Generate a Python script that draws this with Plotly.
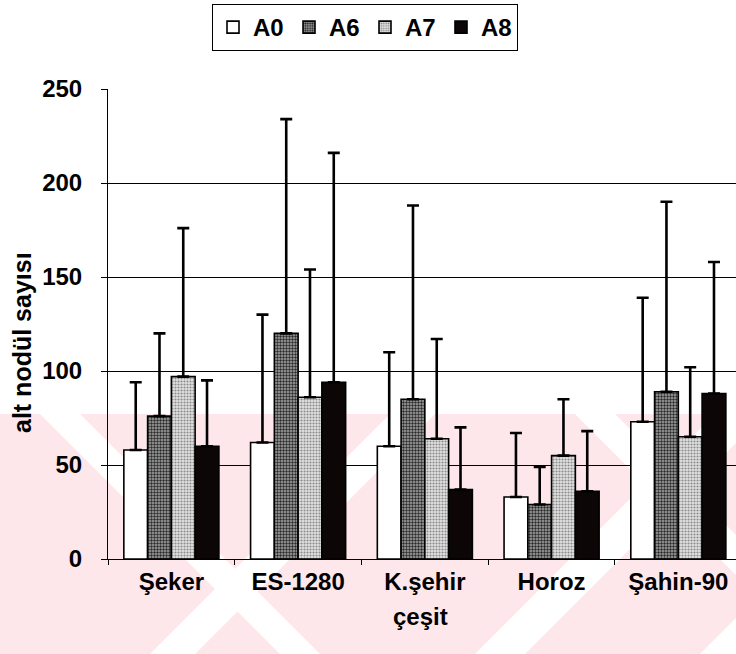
import plotly.graph_objects as go

# Data: mean sub-nodule counts per cultivar and treatment, with upper error values
cultivars = ["Şeker", "ES-1280", "K.şehir", "Horoz", "Şahin-90"]
series_names = ["A0", "A6", "A7", "A8"]

a0_mean = [58, 62, 60, 33, 73]
a6_mean = [76, 120, 85, 29, 89]
a7_mean = [97, 86, 64, 55, 65]
a8_mean = [60, 94, 37, 36, 88]

a0_top = [94, 130, 110, 67, 139]
a6_top = [120, 234, 188, 49, 190]
a7_top = [176, 154, 117, 85, 102]
a8_top = [95, 216, 70, 68, 158]

y_ticks = [0, 50, 100, 150, 200, 250]

means = [a0_mean, a6_mean, a7_mean, a8_mean]
tops = [a0_top, a6_top, a7_top, a8_top]

styles = {
    "A0": dict(color="white"),
    "A6": dict(color="#8a8a8a",
               pattern=dict(shape=".", fgcolor="#2a2a2a", bgcolor="#a8a8a8",
                            size=3, solidity=0.5, fillmode="replace")),
    "A7": dict(color="#cfcfcf",
               pattern=dict(shape=".", fgcolor="#8a8a8a", bgcolor="#e2e2e2",
                            size=3, solidity=0.4, fillmode="replace")),
    "A8": dict(color="#0c0606"),
}

W, H = 736, 654
L, R, T, B = 108, 736, 89, 559  # plot area in pixels


def px(x, y):
    """Pixel position -> paper coordinates."""
    return (x - L) / (R - L), (B - y) / (B - T)


def poly(points):
    pts = [px(x, y) for x, y in points]
    return "M " + " L ".join(f"{a:.5f},{b:.5f}" for a, b in pts) + " Z"


fig = go.Figure()
for name, m, t in zip(series_names, means, tops):
    st = styles[name]
    marker = dict(color=st["color"], line=dict(color="black", width=1.6))
    if "pattern" in st:
        marker["pattern"] = st["pattern"]
    fig.add_trace(go.Bar(
        name=name, x=cultivars, y=m, marker=marker,
        error_y=dict(type="data", symmetric=False,
                     array=[tt - mm for tt, mm in zip(t, m)],
                     arrayminus=[0] * len(m),
                     color="black", thickness=2.6, width=6),
    ))

# faint pink diagonal watermark behind the plot
pink = "#fde7eb"
shapes = [dict(type="path", xref="paper", yref="paper", layer="below",
               path=poly([(0, 414), (740, 414), (740, 654), (0, 654)]),
               fillcolor=pink, line=dict(width=0))]
white_bands = [
    # "\" bands: (top-left x, width)
    ("\\", 40, 40), ("\\", 575, 40),
    # "/" bands: (bottom-left x, width)
    ("/", 150, 45), ("/", 475, 50), ("/", 700, 50),
]
for kind, x0, w in white_bands:
    if kind == "\\":
        p = [(x0, 414), (x0 + w, 414), (x0 + w + 240, 654), (x0 + 240, 654)]
    else:
        p = [(x0, 654), (x0 + w, 654), (x0 + w + 240, 414), (x0 + 240, 414)]
    shapes.append(dict(type="path", xref="paper", yref="paper", layer="below",
                       path=poly(p), fillcolor="white", line=dict(width=0)))

font = "Liberation Sans, Arial, sans-serif"
bold = dict(family=font, size=24, color="black", weight="bold")

fig.update_layout(
    width=W, height=H,
    margin=dict(l=L, r=W - R, t=T, b=H - B, pad=0),
    paper_bgcolor="white", plot_bgcolor="rgba(0,0,0,0)",
    barmode="group", bargap=0.25, bargroupgap=0,
    font=bold,
    showlegend=True,
    legend=dict(orientation="h", x=px(365, 0)[0], xanchor="center",
                xref="paper", y=(B - 4) / (B - T), yanchor="top",
                bordercolor="black", borderwidth=1, bgcolor="white",
                font=bold, entrywidth=31, itemwidth=30,
                tracegroupgap=0),
    shapes=shapes,
    xaxis=dict(range=[-0.5, 4.455], showgrid=False, zeroline=False,
               showline=True, linecolor="black", linewidth=1,
               ticks="outside", tickson="boundaries", ticklen=5,
               tickcolor="black", tickfont=bold,
               ticklabelstandoff=1, fixedrange=True),
    yaxis=dict(range=[0, 250], tickvals=y_ticks, showgrid=True,
               gridcolor="black", gridwidth=1, zeroline=False,
               showline=True, linecolor="black", linewidth=1,
               ticks="outside", ticklen=6, tickcolor="black",
               tickfont=bold, ticklabelstandoff=14,
               fixedrange=True),
    annotations=[
        dict(text="alt nodül sayısı", textangle=-90, xref="paper", yref="paper",
             x=px(22, 0)[0], y=px(0, 343)[1], showarrow=False,
             xanchor="center", yanchor="middle",
             font=dict(family=font, size=25, color="black", weight="bold")),
        dict(text="çeşit", xref="paper", yref="paper",
             x=px(420, 0)[0], y=px(0, 616)[1], showarrow=False,
             xanchor="center", yanchor="middle", font=bold),
    ],
)

fig.write_html("out.html")
